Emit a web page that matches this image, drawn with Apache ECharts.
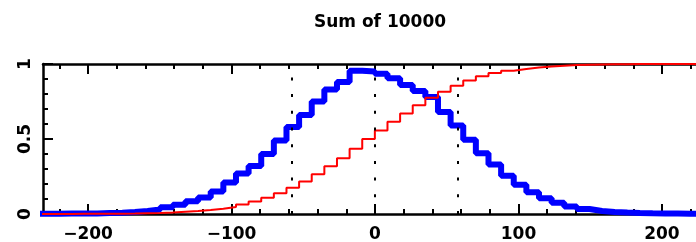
<!DOCTYPE html>
<html><head><meta charset="utf-8">
<script src="https://cdn.jsdelivr.net/npm/echarts/dist/echarts.min.js"></script>
<style>html,body{margin:0;padding:0;background:#fff}#c{width:696px;height:242px}</style>
</head><body><div id="c"></div>
<script>
const titleText = 'Sum of 10000';
const binStart = -237.7;
const binWidth = 8.8;
const histValues = [0.002,0.002,0.003,0.003,0.004,0.006,0.008,0.013,0.02,0.03,
  0.045,0.062,0.085,0.11,0.15,0.21,0.27,0.32,0.40,0.49,
  0.58,0.66,0.75,0.83,0.88,0.955,0.95,0.935,0.905,0.86,
  0.82,0.78,0.68,0.59,0.495,0.405,0.33,0.255,0.195,0.145,
  0.105,0.075,0.05,0.033,0.02,0.014,0.01,0.007,0.005,0.004,
  0.003,0.002,0.002,0.001];
const cumValues = [0.0,0.0,0.0005,0.001,0.001,0.0015,0.002,0.003,0.005,0.007,
  0.01,0.015,0.02,0.027,0.035,0.047,0.063,0.083,0.108,0.138,
  0.175,0.217,0.265,0.318,0.372,0.435,0.5,0.557,0.615,0.67,
  0.725,0.775,0.815,0.855,0.89,0.918,0.94,0.955,0.967,0.977,
  0.984,0.989,0.993,0.995,0.997,0.998,0.999,1.0,1.0,1.0,
  1.0,1.0,1.0,1.0];
const markerLines = [-57.7, 0, 57.7];
const xMajorTicks = [-200,-100,0,100,200];
const xMinorTicks = [-220,-180,-160,-140,-120,-80,-60,-40,-20,20,40,60,80,120,140,160,180,220];
const yMajorTicks = [0,0.5,1];
const yMinorTicks = [0.1,0.2,0.3,0.4,0.6,0.7,0.8,0.9];
const xRange = [-231.4, 231.4];

function stepPoints(vals){
  const pts = vals.map((v,i)=>[binStart+binWidth*i, v]);
  pts.push([binStart+binWidth*vals.length, vals[vals.length-1]]);
  return pts;
}
const font = {fontFamily:'DejaVu Sans', fontWeight:'bold', fontSize:17, color:'#000'};
const lineStyleAxis = {color:'#000', width:2.5};
function xAx(pos, ticks, len, showLine, labels){
  return {type:'value', position:pos, min:xRange[0], max:xRange[1],
    axisLine:{show:showLine, onZero:false, lineStyle:lineStyleAxis},
    axisTick:{show:true, inside:true, length:len, customValues:ticks, lineStyle:{color:'#000', width:2}},
    axisLabel: labels ? Object.assign({show:true, customValues:ticks, margin:12,
       formatter:v=>String(v).replace('-', '\u2212')}, font) : {show:false},
    splitLine:{show:false}};
}
function yAx(pos, ticks, len, showLine, labels){
  return {type:'value', position:pos, min:0, max:1,
    axisLine:{show:showLine, onZero:false, lineStyle:lineStyleAxis},
    axisTick:{show:true, inside:true, length:len, customValues:ticks, lineStyle:{color:'#000', width:2}},
    axisLabel: labels ? Object.assign({show:true, customValues:ticks, margin:9, rotate:90,
       formatter:v=>String(v)}, font) : {show:false},
    splitLine:{show:false}};
}
const chart = echarts.init(document.getElementById('c'), null, {renderer:'canvas'});
chart.setOption({
  animation:false,
  backgroundColor:'#fff',
  title:{text:titleText, left:375, top:9, textAlign:'center',
    textStyle:{fontFamily:'DejaVu Sans', fontWeight:'bold', fontSize:17, color:'#000'}},
  grid:{left:43, top:64, width:664, height:150, containLabel:false, outerBoundsMode:'none'},
  xAxis:[xAx('bottom', xMajorTicks, 10, true, true), xAx('bottom', xMinorTicks, 5, false, false),
         xAx('top', xMajorTicks, 10, true, false), xAx('top', xMinorTicks, 5, false, false)],
  yAxis:[yAx('left', yMajorTicks, 10, true, true), yAx('left', yMinorTicks, 5, false, false),
         yAx('right', yMajorTicks, 10, true, false), yAx('right', yMinorTicks, 5, false, false)],
  series:[
    {type:'line', xAxisIndex:0, yAxisIndex:0, step:'end', showSymbol:false, clip:true,
     data:stepPoints(histValues), lineStyle:{color:'#0000ff', width:6}, itemStyle:{color:'#0000ff'},
     markLine:{silent:true, symbol:['none','none'], label:{show:false},
       lineStyle:{color:'#000', width:2, type:[3,13.7]},
       data:markerLines.map(v=>({xAxis:v}))}},
    {type:'line', xAxisIndex:0, yAxisIndex:0, step:'end', showSymbol:false, clip:true,
     data:stepPoints(cumValues), lineStyle:{color:'#ff0000', width:2}, itemStyle:{color:'#ff0000'}}
  ]
});
</script></body></html>
